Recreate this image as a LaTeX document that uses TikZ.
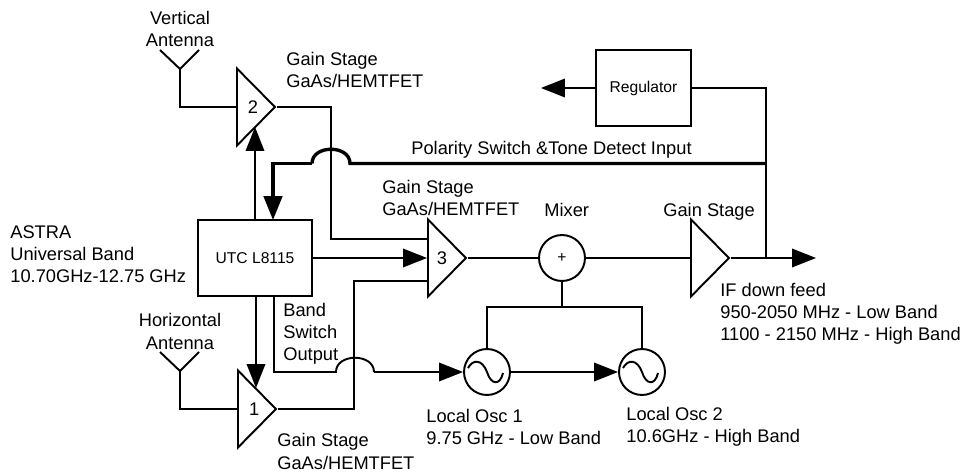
\documentclass[tikz,border=0pt]{standalone}
\usepackage{fontspec}
\setmainfont{Liberation Sans}
\usetikzlibrary{arrows.meta,shapes.geometric}

\tikzset{
  wire/.style={line width=1.1pt},
  bus/.style={line width=1.9pt},
  head/.style={-{Triangle[length=0.48cm,width=0.37cm]}},
  label/.style={anchor=west, align=left, inner sep=0pt, font=\fontsize{10.4}{12.6}\selectfont},
  midlabel/.style={align=center, inner sep=0pt, font=\fontsize{10.4}{12.6}\selectfont},
  amp/.style={draw, line width=1.1pt, isosceles triangle, isosceles triangle stretches,
    shape border rotate=0, minimum width=1.54cm, minimum height=0.76cm, inner sep=0pt,
    anchor=lower side, font=\fontsize{10.4}{12.6}\selectfont},
  unit/.style={draw, line width=1.1pt, rectangle, inner sep=0pt, font=\fontsize{8.9}{11}\selectfont},
  round/.style={draw, line width=1.1pt, circle, minimum size=0.92cm, inner sep=0pt, font=\fontsize{8.9}{11}\selectfont}
}

\begin{document}
\begin{tikzpicture}[x=0.02cm, y=-0.02cm]
\useasboundingbox (0,0) rectangle (965,473);

\node[amp] (amptwo)   at(236,107) {\hspace{2pt}2};
\node[amp] (ampone)   at(237,409) {\hspace{2pt}1};
\node[amp] (ampthree) at(427,258) {3};
\node[amp] (ampif)    at(690,258) {};

\node[unit, minimum width=2.28cm, minimum height=1.52cm] (utc)       at(255,258) {UTC L8115};
\node[unit, minimum width=1.9cm, minimum height=1.52cm]  (regulator) at(643.5,88) {Regulator};

\node[round] (mixer)  at(562,258) {+};
\node[round] (oscone) at(487,372) {};
\node[round] (osctwo) at(642,372) {};

\foreach \osc in {oscone, osctwo}
  \draw[wire] ([shift={(-19,-4)}]\osc.center) .. controls +(5,-9) and +(-5,-13) .. ++(19,4)
    .. controls +(4,13) and +(-3,13) .. ++(16,1);

\node[midlabel] (vertname)  at(180,29) {Vertical\\Antenna};
\node[midlabel] (horizname) at(180,331.5) {Horizontal\\Antenna};
\node[label] (gaintwo)   at(286,70)  {Gain Stage\\GaAs/HEMTFET};
\node[label] (gainthree) at(382,198) {Gain Stage\\GaAs/HEMTFET};
\node[label] (gainone)   at(277,451.5) {Gain Stage\\GaAs/HEMTFET};
\node[label] (gainif)    at(663,212) {Gain Stage};
\node[label] (mixname)   at(544,210) {Mixer};
\node[label] (polarity)  at(411,150) {Polarity Switch \&Tone Detect Input};
\node[label] (astra)     at(10,254)  {ASTRA\\Universal Band\\10.70GHz-12.75 GHz};
\node[label] (bandsw)    at(283,334) {Band\\Switch\\Output};
\node[label] (iffeed)    at(720,314) {IF down feed\\950-2050 MHz - Low Band\\1100 - 2150 MHz - High Band};
\node[label] (oscname)   at(426,427) {Local Osc 1\\9.75 GHz - Low Band};
\node[label] (oscnametwo) at(626,427) {Local Osc 2\\10.6GHz - High Band};

\coordinate (vertfork)  at(180,69);
\coordinate (vertleft)  at(160,50);
\coordinate (vertright) at(199,50);
\coordinate (horizfork)  at(180,371);
\coordinate (horizleft)  at(160,352);
\coordinate (horizright) at(199,352);
\coordinate (rail) at(766,88);
\coordinate (ifout) at(816,258);
\coordinate (regout) at(541,88);
\coordinate (osctee) at(562,307);
\coordinate (tiptwo) at(255,127);
\coordinate (tipone) at(256,388);

\coordinate (busright) at(350,163.5);
\coordinate (busleft)  at(312,163.5);
\coordinate (swleft)   at(336,372);
\coordinate (swright)  at(374,372);

\draw[wire] (vertleft) -- (vertfork) -- (vertright);
\draw[wire] (vertfork) |- (amptwo.lower side);
\draw[wire] (horizleft) -- (horizfork) -- (horizright);
\draw[wire] (horizfork) |- (ampone.lower side);

\draw[wire] (amptwo.apex) -| (331,239) -- (ampthree.lower side |- 331,239);
\draw[wire] (ampone.apex) -| (354,281) -- (ampthree.lower side |- 354,281);

\draw[wire, head] (utc.north -| tiptwo) -- (tiptwo);
\draw[wire, head] (utc.south -| tipone) -- (tipone);
\draw[wire, head] (utc.east) -- (ampthree.lower side);

\draw[bus] (rail |- busright) -- (busright) .. controls +(0,-19) and +(0,-19) .. (busleft);
\draw[bus, head] (busleft) -- (273,163.5) -- (273,220);

\draw[wire] (274,296) -- (274,372) -- (swleft) .. controls +(0,-19) and +(0,-19) .. (swright);
\draw[wire, head] (swright) -- (oscone.west);

\draw[wire] (ampthree.apex) -- (mixer.west);
\draw[wire] (mixer.east) -- (ampif.lower side);
\draw[wire, head] (ampif.apex) -- (ifout);

\draw[wire] (mixer.south) -- (osctee);
\draw[wire] (oscone.north) |- (osctee) -| (osctwo.north);
\draw[wire, head] (oscone.east) -- (osctwo.west);

\draw[wire] (regulator.east) -| (rail |- ifout);
\draw[wire, head] (regulator.west) -- (regout);

\end{tikzpicture}
\end{document}
